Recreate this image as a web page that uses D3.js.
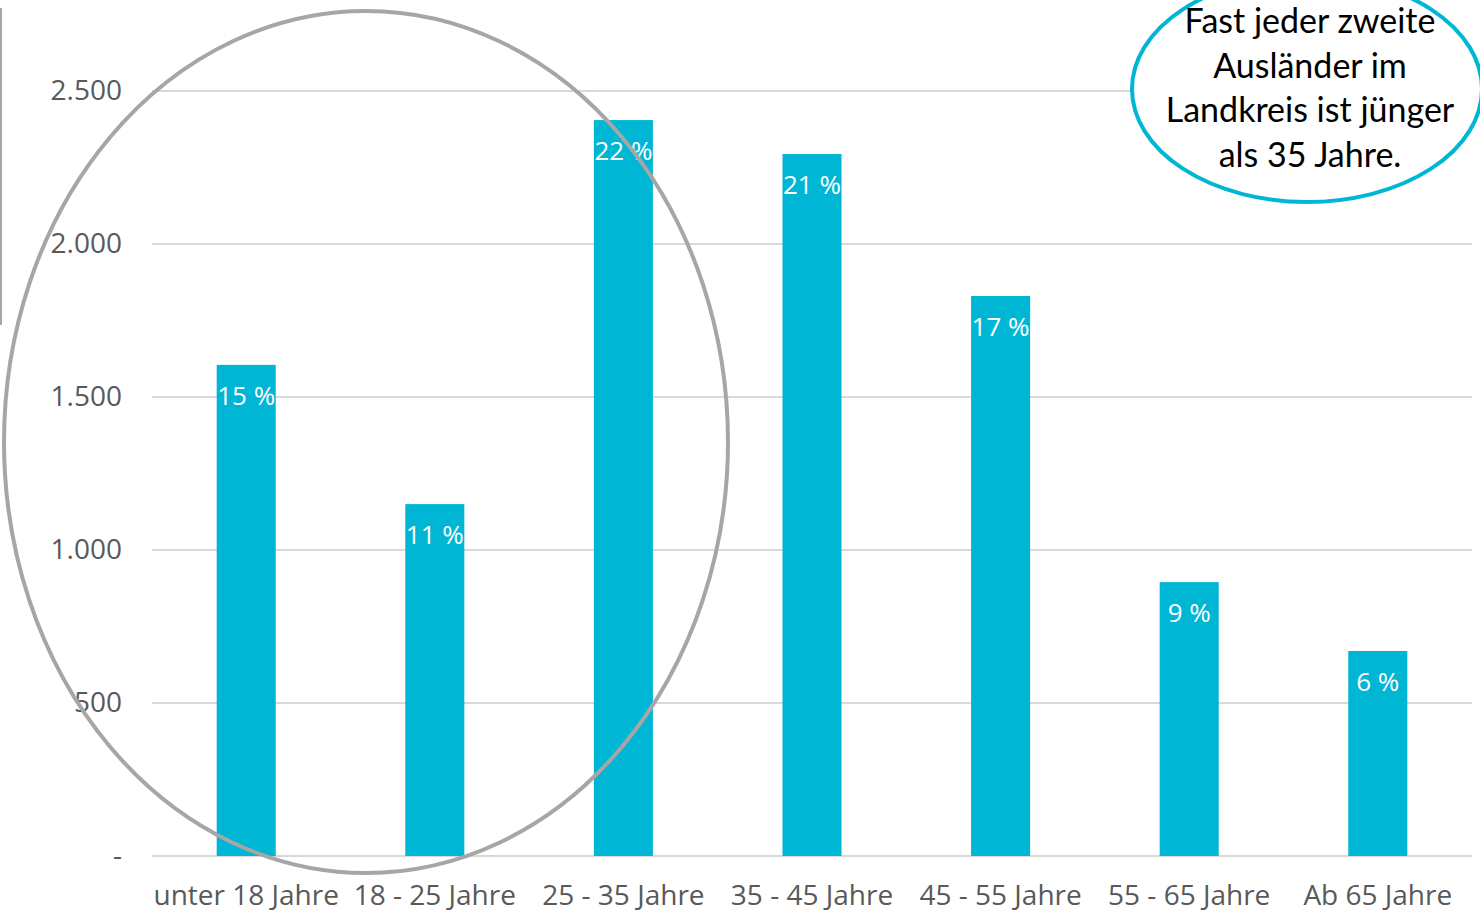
<!DOCTYPE html>
<html>
<head>
<meta charset="utf-8">
<script src="https://cdn.jsdelivr.net/npm/d3@7"></script>
<style>
  body { margin: 0; background: #fff; }
  svg { display: block; }
</style>
</head>
<body>
<div id="chart"></div>
<script>
// data
var categories = ["unter 18 Jahre", "18 - 25 Jahre", "25 - 35 Jahre", "35 - 45 Jahre", "45 - 55 Jahre", "55 - 65 Jahre", "Ab 65 Jahre"];
var counts = [1605, 1150, 2405, 2294, 1830, 895, 670];
var shares = ["15 %", "11 %", "22 %", "21 %", "17 %", "9 %", "6 %"];
var yTicks = [0, 500, 1000, 1500, 2000, 2500];
var noteLines = ["Fast jeder zweite", "Ausländer im", "Landkreis ist jünger", "als 35 Jahre."];

var W = 1480, H = 914;
var margin = { top: 91, right: 8, bottom: 58, left: 152 };
var width = W - margin.left - margin.right,
    height = H - margin.top - margin.bottom;

var svg = d3.select("#chart").append("svg")
    .attr("width", W)
    .attr("height", H);

var g = svg.append("g")
    .attr("transform", "translate(" + margin.left + "," + margin.top + ")");

var x = d3.scaleBand().domain(categories).range([0, width]).paddingInner(0.687).paddingOuter(0.343);
var y = d3.scaleLinear().domain([0, 2500]).range([height, 0]);

var fmt = function (d) {
    if (d === 0) return "-";
    return d3.format(",")(d).replace(/,/g, ".");
};

// gridlines
g.selectAll(".grid").data(yTicks).enter().append("line")
    .attr("x1", 0).attr("x2", width)
    .attr("y1", function (d) { return y(d); })
    .attr("y2", function (d) { return y(d); })
    .attr("stroke", "#d9d9d9")
    .attr("stroke-width", 2);

// y axis
var yAxis = g.append("g")
    .call(d3.axisLeft(y).tickValues(yTicks).tickFormat(fmt).tickSize(0).tickPadding(30));
yAxis.select(".domain").remove();
yAxis.selectAll("text")
    .style("font-family", "'Open Sans', sans-serif")
    .style("font-size", "28px")
    .attr("fill", "#595959");

// x axis
var xAxis = g.append("g")
    .attr("transform", "translate(0," + height + ")")
    .call(d3.axisBottom(x).tickSize(0).tickPadding(29));
xAxis.select(".domain").remove();
xAxis.selectAll("text")
    .style("font-family", "'Open Sans', sans-serif")
    .style("font-size", "28px")
    .attr("fill", "#595959");

// bars
g.selectAll(".bar").data(counts).enter().append("rect")
    .attr("x", function (d, i) { return x(categories[i]); })
    .attr("y", function (d) { return y(d); })
    .attr("width", x.bandwidth())
    .attr("height", function (d) { return height - y(d); })
    .attr("fill", "#00b6d5");

// value labels
g.selectAll(".lbl").data(counts).enter().append("text")
    .attr("x", function (d, i) { return x(categories[i]) + x.bandwidth() / 2; })
    .attr("y", function (d) { return y(d) + 40; })
    .attr("text-anchor", "middle")
    .style("font-family", "'Open Sans', sans-serif")
    .style("font-size", "26px")
    .attr("fill", "#fff")
    .text(function (d, i) { return shares[i]; });

// left border line
svg.append("line")
    .attr("x1", 1).attr("x2", 1).attr("y1", 8).attr("y2", 325)
    .attr("stroke", "#a6a6a6").attr("stroke-width", 2);

// gray ellipse round the young groups
svg.append("ellipse")
    .attr("cx", 366).attr("cy", 442).attr("rx", 362).attr("ry", 431)
    .attr("fill", "none")
    .attr("stroke", "#a6a6a6")
    .attr("stroke-width", 4);

// note bubble
svg.append("ellipse")
    .attr("cx", 1307).attr("cy", 89).attr("rx", 175).attr("ry", 113)
    .attr("fill", "#fff")
    .attr("stroke", "#00b6d5")
    .attr("stroke-width", 4);

svg.append("g").selectAll("text").data(noteLines).enter().append("text")
    .attr("x", 1310)
    .attr("y", function (d, i) { return 33 + i * 44.5; })
    .attr("text-anchor", "middle")
    .style("font-family", "Lato, sans-serif")
    .style("font-size", "34px")
    .attr("fill", "#000")
    .text(function (d) { return d; });
</script>
</body>
</html>
